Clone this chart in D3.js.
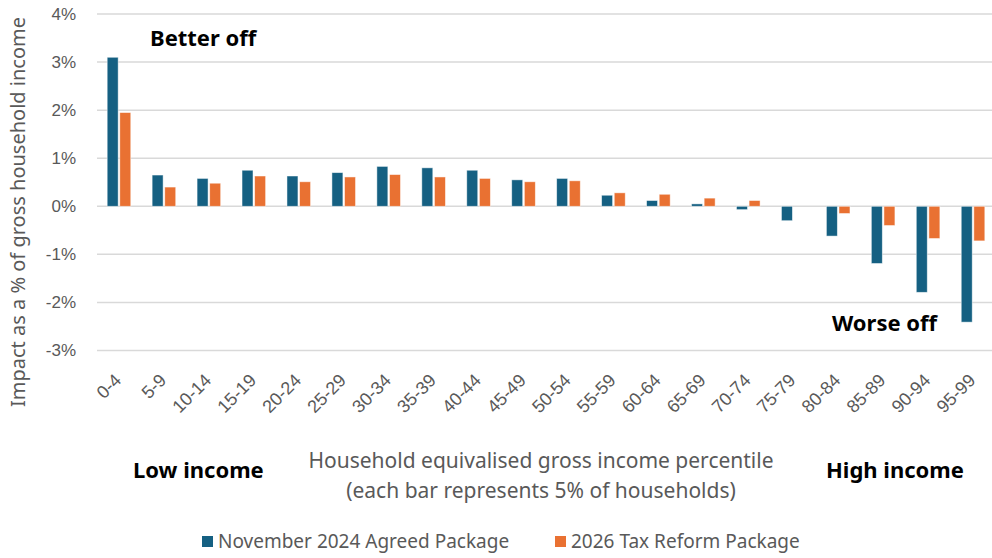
<!DOCTYPE html>
<html>
<head>
<meta charset="utf-8">
<script src="https://cdn.jsdelivr.net/npm/d3@7"></script>
<style>
  html, body { margin: 0; padding: 0; background: #fff; }
  svg { display: block; }
</style>
</head>
<body>
<svg id="chart" width="992" height="558"></svg>
<script>
// Percentile bands (5% of households each)
const categories = ["0-4","5-9","10-14","15-19","20-24","25-29","30-34","35-39","40-44","45-49",
                    "50-54","55-59","60-64","65-69","70-74","75-79","80-84","85-89","90-94","95-99"];
// Impact as % of gross household income
const november2024 = [3.10, 0.65, 0.58, 0.75, 0.63, 0.70, 0.83, 0.80, 0.75, 0.55,
                      0.58, 0.23, 0.12, 0.05, -0.07, -0.30, -0.62, -1.19, -1.79, -2.41];
const reform2026   = [1.95, 0.40, 0.48, 0.63, 0.51, 0.61, 0.66, 0.61, 0.58, 0.51,
                      0.53, 0.28, 0.25, 0.17, 0.12, 0.00, -0.15, -0.40, -0.67, -0.72];
const seriesNames = ["November 2024 Agreed Package", "2026 Tax Reform Package"];
const seriesColors = ["#156082", "#E97132"];
const yTicks = [-3, -2, -1, 0, 1, 2, 3, 4];

const svg = d3.select("#chart");
const labelFont = "'Noto Sans', 'Open Sans', sans-serif";
const tickFont = "'Liberation Sans', Arial, sans-serif";
const grey = "#595959";

const x = d3.scaleBand().domain(categories).range([96.5, 995.5])
  .paddingInner(0.475).paddingOuter(0.2375);
const xSub = d3.scaleBand().domain(seriesNames).range([0, x.bandwidth()]).paddingInner(0.13);
const y = d3.scaleLinear().domain([-3, 4]).range([350.5, 14]);

// Gridlines
svg.append("g").selectAll("line").data(yTicks).join("line")
  .attr("x1", 97).attr("x2", 992)
  .attr("y1", d => y(d)).attr("y2", d => y(d))
  .attr("stroke", "#d9d9d9").attr("stroke-width", 1.5);

// Y axis tick labels
const yAxis = d3.axisLeft(y).tickValues(yTicks).tickFormat(d => d + "%").tickSize(0).tickPadding(0);
const yg = svg.append("g").attr("transform", "translate(76,0)").call(yAxis);
yg.select(".domain").remove();
yg.selectAll("text").attr("font-family", tickFont).attr("font-size", 17).attr("fill", grey);

// Bars
const rows = categories.map((c, i) => ({ cat: c, vals: [november2024[i], reform2026[i]] }));
const groups = svg.append("g").selectAll("g").data(rows).join("g")
  .attr("transform", d => `translate(${x(d.cat)},0)`);
groups.selectAll("rect").data(d => d.vals.map((v, k) => ({ v, k })))
  .join("rect")
  .attr("x", d => xSub(seriesNames[d.k]))
  .attr("width", xSub.bandwidth())
  .attr("y", d => y(Math.max(0, d.v)))
  .attr("height", d => Math.abs(y(d.v) - y(0)))
  .attr("fill", d => seriesColors[d.k])
  .attr("stroke", "#ffffff").attr("stroke-opacity", 0.6).attr("stroke-width", 0.8);

// X tick labels, rotated
const xAxis = d3.axisBottom(x).tickSize(0).tickPadding(0);
const xg = svg.append("g").attr("transform", "translate(0,377)").call(xAxis);
xg.select(".domain").remove();
xg.selectAll("text")
  .attr("font-family", tickFont).attr("font-size", 18).attr("fill", grey)
  .attr("text-anchor", "end").attr("dy", "0.35em")
  .attr("transform", "translate(-1,0) rotate(-45)");

// Y axis title
svg.append("text")
  .attr("transform", "translate(25,212) rotate(-90)")
  .attr("text-anchor", "middle")
  .attr("font-family", labelFont).attr("font-size", 20).attr("fill", grey)
  .text("Impact as a % of gross household income");

// X axis title
const xt = svg.append("text").attr("text-anchor", "middle")
  .attr("font-family", labelFont).attr("font-size", 21).attr("fill", grey);
xt.append("tspan").attr("x", 541).attr("y", 468).text("Household equivalised gross income percentile");
xt.append("tspan").attr("x", 541).attr("y", 498).text("(each bar represents 5% of households)");

// Annotations
const notes = [
  { t: "Better off", x: 150, y: 46 },
  { t: "Worse off", x: 832, y: 331 },
  { t: "Low income", x: 133, y: 478 },
  { t: "High income", x: 826, y: 478 }
];
svg.append("g").selectAll("text").data(notes).join("text")
  .attr("x", d => d.x).attr("y", d => d.y)
  .attr("font-family", labelFont).attr("font-weight", "bold").attr("font-size", 22)
  .attr("fill", "#000").text(d => d.t);

// Legend
const legendX = [202, 555];
const lg = svg.append("g").selectAll("g").data(seriesNames).join("g")
  .attr("transform", (d, i) => `translate(${legendX[i]},536)`);
lg.append("rect").attr("width", 11).attr("height", 11)
  .attr("fill", (d, i) => seriesColors[i]);
lg.append("text").attr("x", 16).attr("y", 11.5)
  .attr("font-family", labelFont).attr("font-size", 19).attr("fill", grey)
  .text(d => d);
</script>
</body>
</html>
